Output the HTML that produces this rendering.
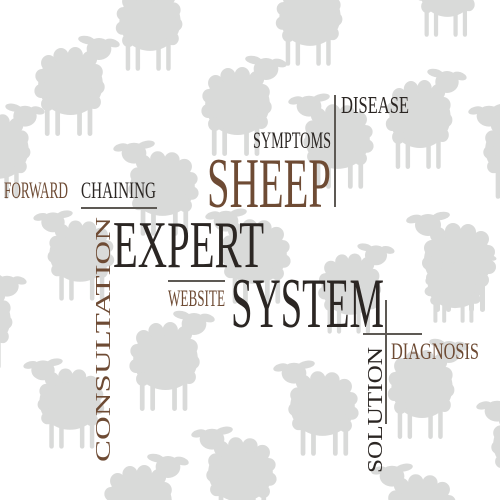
<!DOCTYPE html>
<html>
<head>
<meta charset="utf-8">
<style>
  html,body{margin:0;padding:0;background:#fff;width:500px;height:500px;overflow:hidden;}
  svg{display:block;}
  text{font-family:"Liberation Serif","DejaVu Serif",serif;}
</style>
</head>
<body>
<svg width="500" height="500" viewBox="0 0 500 500">
  <defs>
    <g id="sheep">
      <ellipse cx="6" cy="11" rx="8" ry="4" transform="rotate(-15 6 11)"/>
      <ellipse cx="33" cy="8" rx="9" ry="4" transform="rotate(-10 33 8)"/>
      <ellipse cx="20" cy="17" rx="13" ry="11"/>
      <ellipse cx="50" cy="52" rx="34" ry="31"/>
      <circle cx="24" cy="40" r="8"/><circle cx="30" cy="27" r="8"/><circle cx="45" cy="23" r="8"/>
      <circle cx="60" cy="24" r="8"/><circle cx="73" cy="31" r="8"/><circle cx="80" cy="44" r="7"/>
      <circle cx="81" cy="59" r="7"/><circle cx="74" cy="72" r="7"/><circle cx="21" cy="55" r="7"/>
      <circle cx="25" cy="70" r="7"/>
      <rect x="27" y="74" width="5" height="30" rx="2.5"/>
      <rect x="38" y="76" width="5" height="28" rx="2.5"/>
      <rect x="61" y="76" width="5" height="28" rx="2.5"/>
      <rect x="72" y="74" width="5" height="30" rx="2.5"/>
    </g>
  </defs>
  <g fill="#d9dad9">
    <use href="#sheep" transform="translate(290,90) scale(0.95)"/>
    <use href="#sheep" transform="translate(470,100) scale(0.95)"/>
    <use href="#sheep" transform="translate(115,137) scale(0.95)"/>
    <use href="#sheep" transform="translate(35,207) scale(0.9)"/>
    <use href="#sheep" transform="translate(207,205) scale(0.95)"/>
    <use href="#sheep" transform="translate(408,208) scale(1)"/>
    <use href="#sheep" transform="translate(25,355) scale(0.9)"/>
    <use href="#sheep" transform="translate(193,423) scale(0.95)"/>
    <use href="#sheep" transform="translate(275,357) scale(0.95)"/>
    <use href="#sheep" transform="translate(478,395) scale(0.95)"/>
    <use href="#sheep" transform="translate(373,460) scale(0.95)"/>
    <use href="#sheep" transform="translate(195,-28) scale(-0.9,0.95)"/>
    <use href="#sheep" transform="translate(355,-33) scale(-0.9,0.95)"/>
    <use href="#sheep" transform="translate(490,-62) scale(-0.85,0.95)"/>
    <use href="#sheep" transform="translate(118,32) scale(-0.95,1)"/>
    <use href="#sheep" transform="translate(285,52) scale(-0.95,1)"/>
    <use href="#sheep" transform="translate(465,65) scale(-0.9,1)"/>
    <use href="#sheep" transform="translate(43,100) scale(-0.9,0.95)"/>
    <use href="#sheep" transform="translate(393,240) scale(-0.85,0.9)"/>
    <use href="#sheep" transform="translate(25,270) scale(-0.9,0.95)"/>
    <use href="#sheep" transform="translate(213,307) scale(-0.95,1)"/>
    <use href="#sheep" transform="translate(187,450) scale(-0.95,1)"/>
    <use href="#sheep" transform="translate(467,335) scale(-0.9,1)"/>
    <use href="#sheep" transform="translate(495,250) scale(-0.8,0.7)"/>
  </g>

  <g stroke="#5d5954" stroke-width="2">
    <line x1="335" y1="95" x2="335" y2="207"/>
    <line x1="81" y1="208" x2="157" y2="208"/>
    <line x1="168" y1="281" x2="225" y2="281"/>
    <line x1="386" y1="300" x2="386" y2="424"/>
    <line x1="363" y1="334" x2="422" y2="334"/>
  </g>

  <text x="341" y="113" font-size="24" fill="#2b2623" textLength="68" lengthAdjust="spacingAndGlyphs">DISEASE</text>
  <text x="253" y="148" font-size="23" fill="#2b2623" textLength="78" lengthAdjust="spacingAndGlyphs">SYMPTOMS</text>
  <text x="207" y="207" font-size="71" fill="#6e4b34" textLength="124" lengthAdjust="spacingAndGlyphs">SHEEP</text>
  <text x="4" y="198" font-size="23" fill="#6e4b34" textLength="64" lengthAdjust="spacingAndGlyphs">FORWARD</text>
  <text x="81" y="198" font-size="23" fill="#2b2623" textLength="75" lengthAdjust="spacingAndGlyphs">CHAINING</text>
  <text x="113" y="267" font-size="67" fill="#2b2623" textLength="151" lengthAdjust="spacingAndGlyphs">EXPERT</text>
  <text x="168" y="306" font-size="23" fill="#6e4b34" textLength="57" lengthAdjust="spacingAndGlyphs">WEBSITE</text>
  <text x="231" y="327" font-size="71" fill="#2b2623" textLength="153" lengthAdjust="spacingAndGlyphs">SYSTEM</text>
  <text x="391" y="359" font-size="23" fill="#6e4b34" textLength="88" lengthAdjust="spacingAndGlyphs">DIAGNOSIS</text>
  <text transform="translate(110,462) rotate(-90)" font-size="21" fill="#6e4b34" textLength="245" lengthAdjust="spacingAndGlyphs">CONSULTATION</text>
  <text transform="translate(382,473) rotate(-90)" font-size="21" fill="#2b2623" textLength="126" lengthAdjust="spacingAndGlyphs">SOLUTION</text>
</svg>
</body>
</html>
